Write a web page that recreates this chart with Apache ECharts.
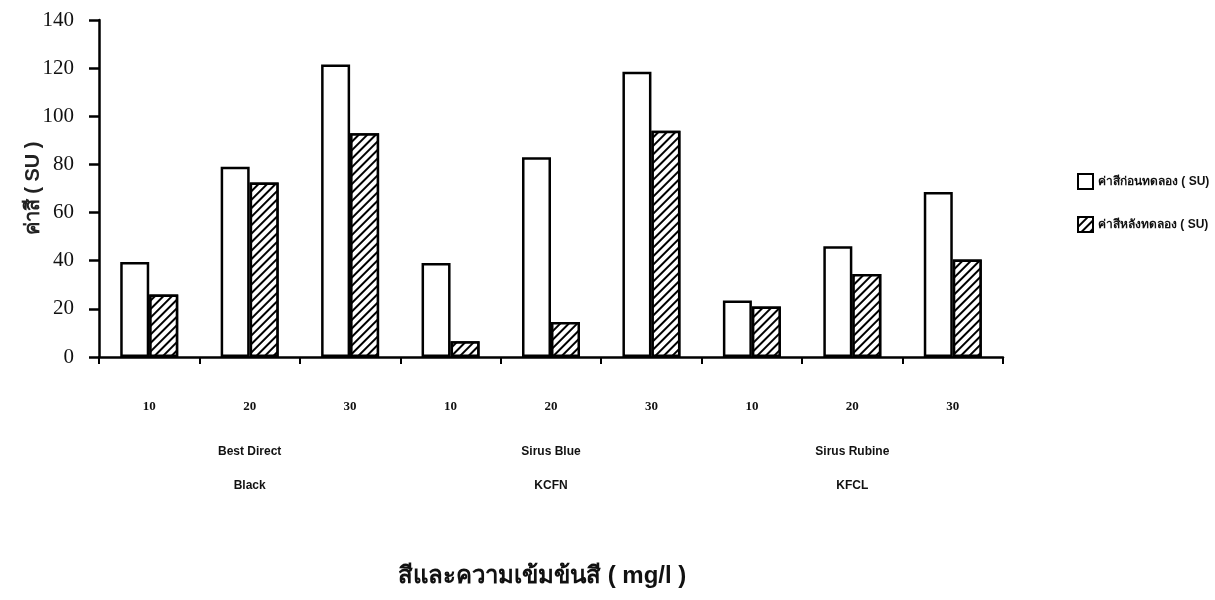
<!DOCTYPE html>
<html>
<head>
<meta charset="utf-8">
<script src="https://cdn.jsdelivr.net/npm/echarts@6/dist/echarts.min.js"></script>
<style>
html,body{margin:0;padding:0;background:#fff;}
#chart{width:1215px;height:600px;}
</style>
</head>
<body>
<div id="chart"></div>
<script>
// ---- data ----
const concentrations = ['10','20','30','10','20','30','10','20','30'];
const dyeGroups = ['Best Direct\nBlack', 'Sirus Blue\nKCFN', 'Sirus Rubine\nKFCL'];
const seriesNames = ['ค่าสีก่อนทดลอง ( SU)', 'ค่าสีหลังทดลอง ( SU)'];
const beforeValues = [39.5, 79, 121.5, 39, 83, 118.5, 23.5, 46, 68.5];
const afterValues  = [26, 72.5, 93, 6.5, 14.5, 94, 21, 34.5, 40.5];
const yTicks = [0, 20, 40, 60, 80, 100, 120, 140];

const chart = echarts.init(document.getElementById('chart'), null, {renderer: 'canvas'});
const serif = '"Liberation Serif", "DejaVu Serif", serif';
const sans = '"Liberation Sans", "DejaVu Sans", sans-serif';
const thai = 'sans-serif';

const hatch = {
  symbol: 'rect',
  color: '#000',
  backgroundColor: '#fff',
  dashArrayX: [1, 0],
  dashArrayY: [2, 4],
  rotation: -Math.PI / 4,
  symbolSize: 1
};

chart.setOption({
  backgroundColor: '#fff',
  animation: false,
  title: {
    text: 'สีและความเข้มข้นสี ( mg/l )',
    left: 393,
    top: 559,
    textStyle: {fontFamily: thai, fontSize: 24, fontWeight: 'bold', color: '#111'}
  },
  legend: {
    orient: 'vertical',
    left: 1072,
    top: 168,
    itemGap: 26,
    itemWidth: 15,
    itemHeight: 15,
    itemTextGap: 4,
    icon: 'rect',
    textStyle: {fontFamily: thai, fontSize: 12, fontWeight: 'bold', color: '#111'},
    data: seriesNames
  },
  grid: {left: 99, right: 212, top: 20, bottom: 243, containLabel: false},
  xAxis: [
    {
      type: 'category',
      data: concentrations,
      boundaryGap: true,
      axisLine: {lineStyle: {color: '#000', width: 2.5}},
      axisTick: {show: true, length: 7, lineStyle: {color: '#000', width: 2}},
      axisLabel: {margin: 43, fontFamily: serif, fontSize: 13, fontWeight: 'bold', color: '#111'}
    },
    {
      type: 'category',
      data: dyeGroups,
      position: 'bottom',
      axisLine: {show: false},
      axisTick: {show: false},
      axisLabel: {margin: 78, fontFamily: sans, fontSize: 12, fontWeight: 'bold', color: '#111', lineHeight: 34}
    }
  ],
  yAxis: {
    type: 'value',
    min: 0,
    max: 140,
    interval: 20,
    name: 'ค่าสี ( SU )',
    nameLocation: 'middle',
    nameGap: 56,
    nameMoveOverlap: false,
    nameTextStyle: {fontFamily: thai, fontSize: 20, fontWeight: 'bold', color: '#222'},
    axisLine: {show: true, lineStyle: {color: '#000', width: 2.5}},
    axisTick: {show: true, inside: false, length: 10, lineStyle: {color: '#000', width: 2.5}},
    axisLabel: {margin: 25, fontFamily: serif, fontSize: 21, color: '#111',
      formatter: v => yTicks.includes(v) ? String(v) : ''},
    splitLine: {show: false}
  },
  series: [
    {
      name: seriesNames[0],
      type: 'bar',
      data: beforeValues,
      barWidth: 29,
      barGap: '0%',
      itemStyle: {color: '#fff', borderColor: '#000', borderWidth: 2.5}
    },
    {
      name: seriesNames[1],
      type: 'bar',
      data: afterValues,
      barWidth: 29,
      barGap: '0%',
      itemStyle: {color: '#fff', borderColor: '#000', borderWidth: 2.5, decal: hatch}
    }
  ]
});
</script>
</body>
</html>
